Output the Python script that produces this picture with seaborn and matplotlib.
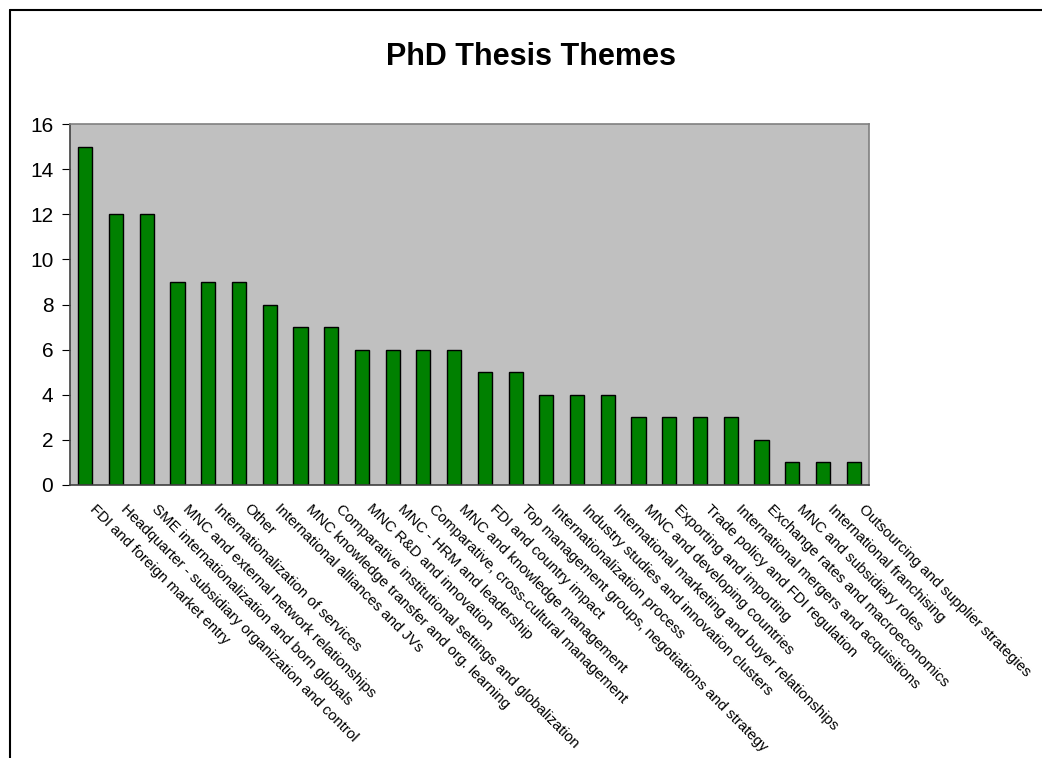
import matplotlib
matplotlib.use("Agg")
import matplotlib.pyplot as plt
import matplotlib.transforms as mtransforms
import seaborn as sns
import pandas as pd
from matplotlib.lines import Line2D

categories = [
    "FDI and foreign market entry",
    "Headquarter - subsidiary organization and control",
    "SME internationalization and born globals",
    "MNC and external network relationships",
    "Internationalization of services",
    "Other",
    "International alliances and JVs",
    "MNC knowledge transfer and org. learning",
    "Comparative institutional settings and globalization",
    "MNC R&D and innovation",
    "MNC - HRM and leadership",
    "Comparative, cross-cultural management",
    "MNC and knowledge management",
    "FDI and country impact",
    "Top management groups, negotiations and strategy",
    "Internationalization process",
    "Industry studies and innovation clusters",
    "International marketing and buyer relationships",
    "MNC and developing countries",
    "Exporting and importing",
    "Trade policy and FDI regulation",
    "International mergers and acquisitions",
    "Exchange rates and macroeconomics",
    "MNC and subsidiary roles",
    "International franchising",
    "Outsourcing and supplier strategies",
]
values = [15, 12, 12, 9, 9, 9, 8, 7, 7, 6, 6, 6, 6, 5, 5, 4, 4, 4, 3, 3, 3, 3, 2, 1, 1, 1]
y_ticks = [0, 2, 4, 6, 8, 10, 12, 14, 16]
title = "PhD Thesis Themes"

sns.set_style("white")
plt.rcParams["font.family"] = ["Liberation Sans", "DejaVu Sans"]
plt.rcParams["text.color"] = "black"
plt.rcParams["xtick.color"] = "black"
plt.rcParams["ytick.color"] = "black"

df = pd.DataFrame({"theme": categories, "count": values})

fig = plt.figure(figsize=(10.42, 7.58), dpi=100)
W, H = 1042, 758
left, right, top, bottom = 70, 869, 124, 485
ax = fig.add_axes([left / W, 1 - bottom / H, (right - left) / W, (bottom - top) / H])
ax.set_facecolor("#c0c0c0")

sns.barplot(data=df, x="theme", y="count", color="#008000", edgecolor="black",
            linewidth=1.0, width=0.46, saturation=1, ax=ax)

ax.set_xlim(-0.5, len(categories) - 0.5)
ax.set_ylim(0, 16)
ax.set_yticks(y_ticks)
ax.set_yticklabels([str(v) for v in y_ticks], fontsize=15)
ax.set_xlabel("")
ax.set_ylabel("")

ax.set_xticks(range(len(categories)))
ax.set_xticklabels(categories, rotation=-45, ha="left", va="top",
                   rotation_mode="anchor", fontsize=10.8, color="black")
ax.tick_params(axis="x", which="major", length=0, pad=12)
offset = mtransforms.ScaledTranslation(12 / 100, 0, fig.dpi_scale_trans)
for lbl in ax.get_xticklabels():
    lbl.set_transform(lbl.get_transform() + offset)
ax.set_xticks([i - 0.5 for i in range(len(categories) + 1)], minor=True)
ax.tick_params(axis="x", which="minor", length=5, direction="out", color="black")
ax.tick_params(axis="y", length=6, direction="out", color="black", left=True, pad=6)

for s in ["left", "bottom"]:
    ax.spines[s].set_color("#404040")
    ax.spines[s].set_linewidth(1.2)
for s in ["top", "right"]:
    ax.spines[s].set_color("#808080")
    ax.spines[s].set_linewidth(1.2)

fig.text(531 / W, 1 - 57 / H, title, ha="center", va="center",
         fontsize=22, fontweight="bold", color="black")

# outer chart border (top and left edges visible)
fig.add_artist(Line2D([10 / W, 10 / W], [0, 1 - 10 / H], color="black", lw=1.5,
                      transform=fig.transFigure))
fig.add_artist(Line2D([10 / W, 1], [1 - 10 / H, 1 - 10 / H], color="black", lw=1.5,
                      transform=fig.transFigure))

fig.savefig("out.png", dpi=100)
